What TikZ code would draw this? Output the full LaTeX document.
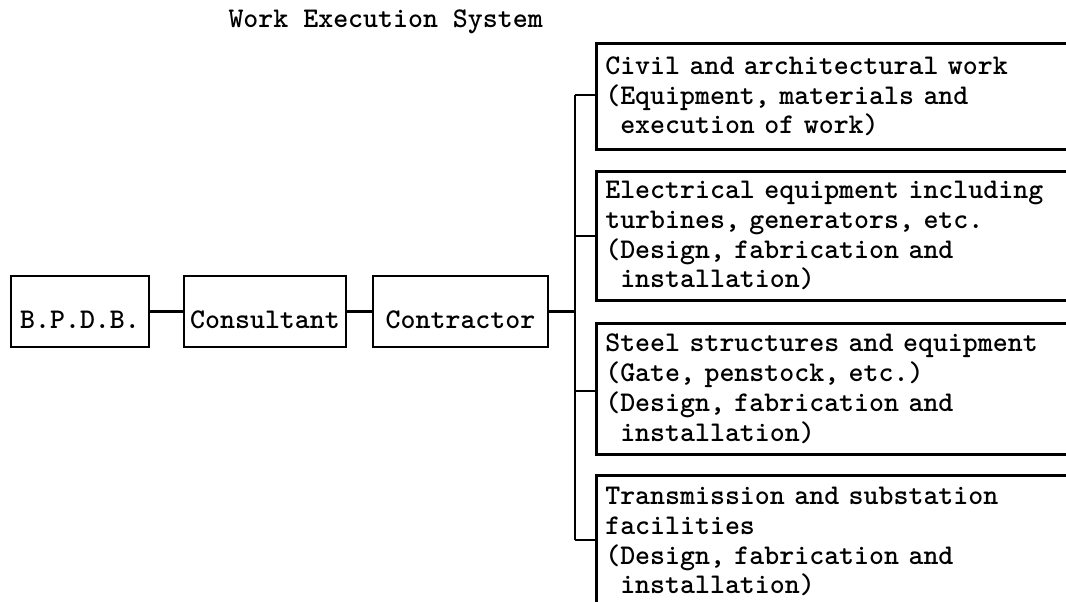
\documentclass[tikz,border=0pt]{standalone}
\begin{document}
\begin{tikzpicture}[x=1pt,y=-1pt,
  txt/.style={font=\ttfamily\bfseries\fontsize{28.5}{29.7}\selectfont},
  chainbox/.style={txt,draw,line width=2.6pt,minimum height=71pt,inner sep=0pt,
    text height=33pt,text depth=0pt},
  workbox/.style={txt,draw,line width=2.6pt,anchor=north west,align=left,
    text width=480pt,inner xsep=9pt,inner ysep=0pt},
  link/.style={line width=2.6pt}]
\clip (0,0) rectangle (1066,602);
\fill[white] (0,0) rectangle (1066,602);

% heading
\node[txt,anchor=west] (title) at (225,22) {Work Execution System};

% organisation chain
\node[chainbox,minimum width=138pt] (bpdb) at (80,311.5) {B.P.D.B.};
\node[chainbox,minimum width=162pt] (cons) at (265,311.5) {Consultant};
\node[chainbox,minimum width=175pt] (cont) at (460.5,311.5) {Contractor};

% work packages
\node[workbox,minimum height=106pt] (w1) at (595,42)
  {Civil and architectural work\\(Equipment, materials and\\\hphantom{x}execution of work)};
\node[workbox,minimum height=129pt] (w2) at (595,170)
  {Electrical equipment including\\turbines, generators, etc.\\(Design, fabrication and\\\hphantom{x}installation)};
\node[workbox,minimum height=131pt] (w3) at (595,322)
  {Steel structures and equipment\\(Gate, penstock, etc.)\\(Design, fabrication and\\\hphantom{x}installation)};
\node[workbox,minimum height=133pt] (w4) at (595,474)
  {Transmission and substation\\facilities\\(Design, fabrication and\\\hphantom{x}installation)};

% trunk junctions
\coordinate (t1) at (575,95);
\coordinate (t2) at (575,236);
\coordinate (t3) at (575,391);
\coordinate (t4) at (575,540);

% connectors
\draw[link] (bpdb) -- (cons);
\draw[link] (cons) -- (cont);
\draw[link] (cont.east) -- (cont.east -| t1);
\draw[link] (t1) -- (t4);
\draw[link] (t1) -- (t1 -| w1.west);
\draw[link] (t2) -- (t2 -| w2.west);
\draw[link] (t3) -- (t3 -| w3.west);
\draw[link] (t4) -- (t4 -| w4.west);
\end{tikzpicture}
\end{document}
